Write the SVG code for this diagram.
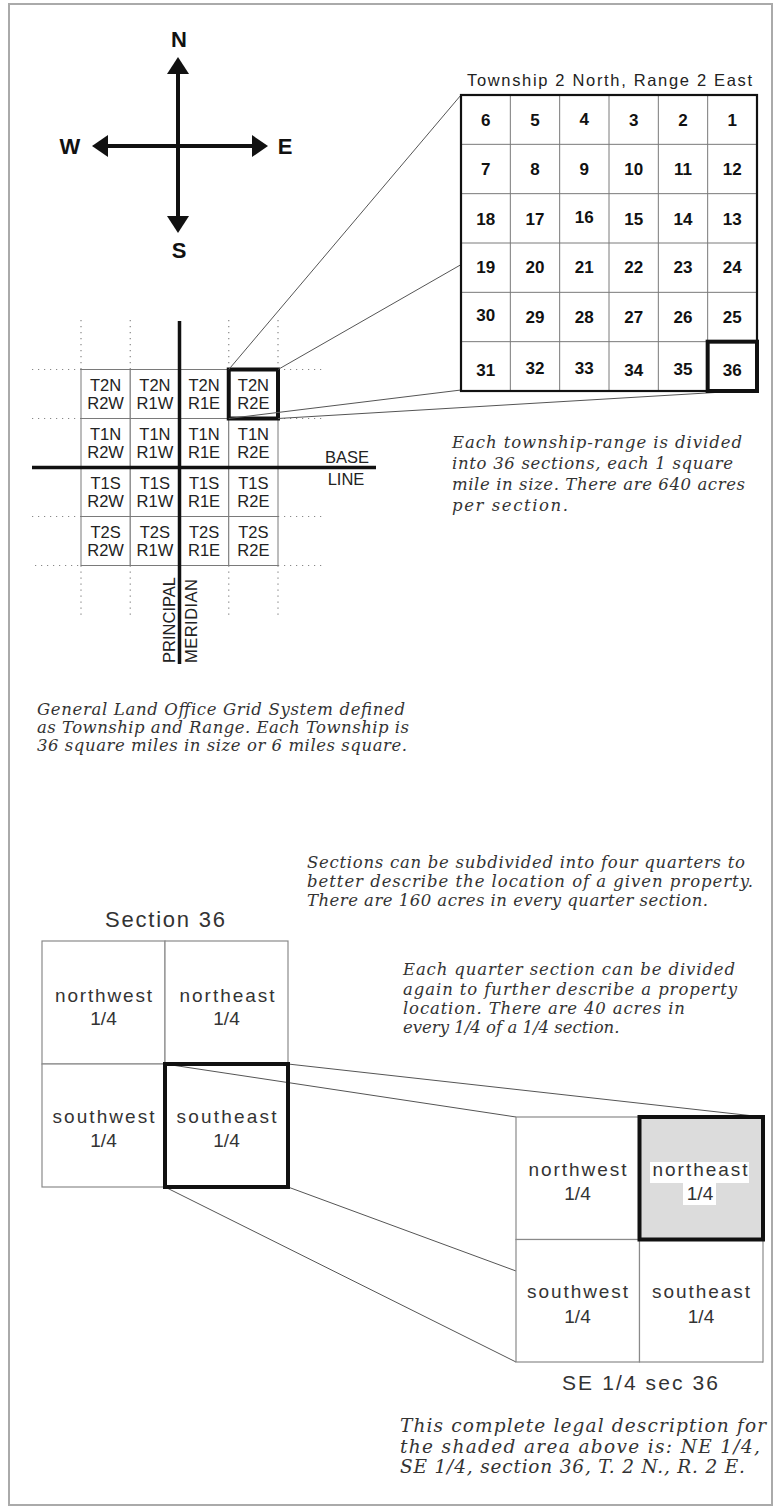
<svg xmlns="http://www.w3.org/2000/svg" width="775" height="1509" viewBox="0 0 775 1509">
<style>
.frame{fill:#fff;stroke:#aaa;stroke-width:2}
.gl{stroke:#7a7a7a;stroke-width:1;fill:#fff}
.gl2{stroke:#8a8a8a;stroke-width:1.2;fill:#fff}
.lbl{font-family:"Liberation Sans",Arial,sans-serif;fill:#222;text-anchor:middle;font-size:16.5px}
.ql{font-family:"Liberation Sans",Arial,sans-serif;fill:#333;text-anchor:middle;font-size:19px}
.it{font-family:"DejaVu Serif","Liberation Serif",serif;font-style:italic;fill:#333;font-size:16.5px}
.num{font-family:"Liberation Sans",Arial,sans-serif;font-weight:bold;font-size:17px;text-anchor:middle;fill:#111}
.cmp{font-family:"Liberation Sans",Arial,sans-serif;font-weight:bold;font-size:22px;text-anchor:middle;fill:#111}
.dot{stroke:#888;stroke-width:1.2;stroke-dasharray:1.2 4.8;fill:none}
.con{stroke:#555;stroke-width:1;fill:none}
.thick{fill:none;stroke:#111;stroke-width:4}
.axis{stroke:#111;stroke-width:3.5}
</style>
<rect class="frame" x="9" y="4" width="763" height="1501"/>

<g id="compass">
  <line x1="178" y1="70" x2="178" y2="220" stroke="#111" stroke-width="4"/>
  <line x1="104" y1="146" x2="256" y2="146" stroke="#111" stroke-width="4"/>
  <polygon points="178,57 167,74 189,74" fill="#111"/>
  <polygon points="178,233 167,216 189,216" fill="#111"/>
  <polygon points="92,146 108,135 108,157" fill="#111"/>
  <polygon points="268,146 252,135 252,157" fill="#111"/>
  <text class="cmp" x="179" y="47">N</text>
  <text class="cmp" x="70" y="154">W</text>
  <text class="cmp" x="285" y="154">E</text>
  <text class="cmp" x="179" y="258">S</text>
</g>

<g id="grid-lines">
  <line class="dot" x1="32" y1="369.5" x2="81" y2="369.5"/>
  <line class="dot" x1="278" y1="369.5" x2="325" y2="369.5"/>
  <line class="dot" x1="32" y1="418.5" x2="81" y2="418.5"/>
  <line class="dot" x1="278" y1="418.5" x2="325" y2="418.5"/>
  <line class="dot" x1="32" y1="516.5" x2="81" y2="516.5"/>
  <line class="dot" x1="278" y1="516.5" x2="325" y2="516.5"/>
  <line class="dot" x1="35" y1="565.5" x2="81" y2="565.5"/>
  <line class="dot" x1="278" y1="565.5" x2="325" y2="565.5"/>
  <line class="dot" x1="81" y1="320" x2="81" y2="369.5"/>
  <line class="dot" x1="130.25" y1="320" x2="130.25" y2="369.5"/>
  <line class="dot" x1="228.75" y1="320" x2="228.75" y2="369.5"/>
  <line class="dot" x1="278" y1="320" x2="278" y2="369.5"/>
  <line class="dot" x1="81" y1="565.5" x2="81" y2="615"/>
  <line class="dot" x1="130.25" y1="565.5" x2="130.25" y2="615"/>
  <line class="dot" x1="228.75" y1="565.5" x2="228.75" y2="615"/>
  <line class="dot" x1="278" y1="565.5" x2="278" y2="615"/>
</g>

<g id="township-grid">
  <g id="t2n-r2w"><rect class="gl" x="81" y="369.5" width="49.25" height="49"/><text class="lbl" x="105.6" y="391">T2N</text><text class="lbl" x="105.6" y="409">R2W</text></g>
  <g id="t2n-r1w"><rect class="gl" x="130.25" y="369.5" width="49.25" height="49"/><text class="lbl" x="154.9" y="391">T2N</text><text class="lbl" x="154.9" y="409">R1W</text></g>
  <g id="t2n-r1e"><rect class="gl" x="179.5" y="369.5" width="49.25" height="49"/><text class="lbl" x="204.1" y="391">T2N</text><text class="lbl" x="204.1" y="409">R1E</text></g>
  <g id="t2n-r2e"><rect class="gl" x="228.75" y="369.5" width="49.25" height="49"/><text class="lbl" x="253.4" y="391">T2N</text><text class="lbl" x="253.4" y="409">R2E</text></g>
  <g id="t1n-r2w"><rect class="gl" x="81" y="418.5" width="49.25" height="49"/><text class="lbl" x="105.6" y="440">T1N</text><text class="lbl" x="105.6" y="458">R2W</text></g>
  <g id="t1n-r1w"><rect class="gl" x="130.25" y="418.5" width="49.25" height="49"/><text class="lbl" x="154.9" y="440">T1N</text><text class="lbl" x="154.9" y="458">R1W</text></g>
  <g id="t1n-r1e"><rect class="gl" x="179.5" y="418.5" width="49.25" height="49"/><text class="lbl" x="204.1" y="440">T1N</text><text class="lbl" x="204.1" y="458">R1E</text></g>
  <g id="t1n-r2e"><rect class="gl" x="228.75" y="418.5" width="49.25" height="49"/><text class="lbl" x="253.4" y="440">T1N</text><text class="lbl" x="253.4" y="458">R2E</text></g>
  <g id="t1s-r2w"><rect class="gl" x="81" y="467.5" width="49.25" height="49"/><text class="lbl" x="105.6" y="489">T1S</text><text class="lbl" x="105.6" y="507">R2W</text></g>
  <g id="t1s-r1w"><rect class="gl" x="130.25" y="467.5" width="49.25" height="49"/><text class="lbl" x="154.9" y="489">T1S</text><text class="lbl" x="154.9" y="507">R1W</text></g>
  <g id="t1s-r1e"><rect class="gl" x="179.5" y="467.5" width="49.25" height="49"/><text class="lbl" x="204.1" y="489">T1S</text><text class="lbl" x="204.1" y="507">R1E</text></g>
  <g id="t1s-r2e"><rect class="gl" x="228.75" y="467.5" width="49.25" height="49"/><text class="lbl" x="253.4" y="489">T1S</text><text class="lbl" x="253.4" y="507">R2E</text></g>
  <g id="t2s-r2w"><rect class="gl" x="81" y="516.5" width="49.25" height="49"/><text class="lbl" x="105.6" y="538">T2S</text><text class="lbl" x="105.6" y="556">R2W</text></g>
  <g id="t2s-r1w"><rect class="gl" x="130.25" y="516.5" width="49.25" height="49"/><text class="lbl" x="154.9" y="538">T2S</text><text class="lbl" x="154.9" y="556">R1W</text></g>
  <g id="t2s-r1e"><rect class="gl" x="179.5" y="516.5" width="49.25" height="49"/><text class="lbl" x="204.1" y="538">T2S</text><text class="lbl" x="204.1" y="556">R1E</text></g>
  <g id="t2s-r2e"><rect class="gl" x="228.75" y="516.5" width="49.25" height="49"/><text class="lbl" x="253.4" y="538">T2S</text><text class="lbl" x="253.4" y="556">R2E</text></g>
  <line id="principal-meridian" class="axis" x1="179.5" y1="321" x2="179.5" y2="664"/>
  <line id="base-line" class="axis" x1="32" y1="467.5" x2="376" y2="467.5"/>
  <rect class="thick" x="228.75" y="369.5" width="49.25" height="49" stroke-width="3.5"/>
  <text class="lbl" x="347" y="463">BASE</text>
  <text class="lbl" x="346" y="485">LINE</text>
  <text class="lbl" style="text-anchor:start" transform="translate(175,663) rotate(-90)" textLength="86">PRINCIPAL</text>
  <text class="lbl" style="text-anchor:start" transform="translate(197,663) rotate(-90)" textLength="84">MERIDIAN</text>
</g>

<g id="connectors">
  <line class="con" x1="228.75" y1="369.5" x2="461" y2="95"/>
  <line class="con" x1="278" y1="369.5" x2="757" y2="95"/>
  <line class="con" x1="228.75" y1="418.5" x2="461" y2="390"/>
  <line class="con" x1="278" y1="418.5" x2="757" y2="390"/>
</g>

<g id="township-2n-2e">
  <text class="lbl" x="467" y="86" style="text-anchor:start" textLength="285">Township 2 North, Range 2 East</text>
  <rect x="461" y="95" width="296" height="296" fill="#fff"/>
  <g stroke="#7a7a7a" stroke-width="1">
    <line x1="510.33" y1="95" x2="510.33" y2="391"/>
    <line x1="559.67" y1="95" x2="559.67" y2="391"/>
    <line x1="609" y1="95" x2="609" y2="391"/>
    <line x1="658.33" y1="95" x2="658.33" y2="391"/>
    <line x1="707.67" y1="95" x2="707.67" y2="391"/>
    <line x1="461" y1="144.33" x2="757" y2="144.33"/>
    <line x1="461" y1="193.67" x2="757" y2="193.67"/>
    <line x1="461" y1="243" x2="757" y2="243"/>
    <line x1="461" y1="292.33" x2="757" y2="292.33"/>
    <line x1="461" y1="341.67" x2="757" y2="341.67"/>
  </g>
  <rect x="461" y="95" width="296" height="296" fill="none" stroke="#111" stroke-width="2.2"/>
  <g id="sec-6"><text class="num" x="485.7" y="126">6</text></g>
  <g id="sec-5"><text class="num" x="535" y="126">5</text></g>
  <g id="sec-4"><text class="num" x="584.3" y="125">4</text></g>
  <g id="sec-3"><text class="num" x="633.7" y="126">3</text></g>
  <g id="sec-2"><text class="num" x="683" y="126">2</text></g>
  <g id="sec-1"><text class="num" x="732.3" y="126">1</text></g>
  <g id="sec-7"><text class="num" x="485.7" y="175">7</text></g>
  <g id="sec-8"><text class="num" x="535" y="175">8</text></g>
  <g id="sec-9"><text class="num" x="584.3" y="175">9</text></g>
  <g id="sec-10"><text class="num" x="633.7" y="175">10</text></g>
  <g id="sec-11"><text class="num" x="683" y="175">11</text></g>
  <g id="sec-12"><text class="num" x="732.3" y="175">12</text></g>
  <g id="sec-18"><text class="num" x="485.7" y="225">18</text></g>
  <g id="sec-17"><text class="num" x="535" y="225">17</text></g>
  <g id="sec-16"><text class="num" x="584.3" y="223">16</text></g>
  <g id="sec-15"><text class="num" x="633.7" y="225">15</text></g>
  <g id="sec-14"><text class="num" x="683" y="225">14</text></g>
  <g id="sec-13"><text class="num" x="732.3" y="225">13</text></g>
  <g id="sec-19"><text class="num" x="485.7" y="273">19</text></g>
  <g id="sec-20"><text class="num" x="535" y="273">20</text></g>
  <g id="sec-21"><text class="num" x="584.3" y="273">21</text></g>
  <g id="sec-22"><text class="num" x="633.7" y="273">22</text></g>
  <g id="sec-23"><text class="num" x="683" y="273">23</text></g>
  <g id="sec-24"><text class="num" x="732.3" y="273">24</text></g>
  <g id="sec-30"><text class="num" x="485.7" y="321">30</text></g>
  <g id="sec-29"><text class="num" x="535" y="323">29</text></g>
  <g id="sec-28"><text class="num" x="584.3" y="323">28</text></g>
  <g id="sec-27"><text class="num" x="633.7" y="323">27</text></g>
  <g id="sec-26"><text class="num" x="683" y="323">26</text></g>
  <g id="sec-25"><text class="num" x="732.3" y="323">25</text></g>
  <g id="sec-31"><text class="num" x="485.7" y="376">31</text></g>
  <g id="sec-32"><text class="num" x="535" y="374">32</text></g>
  <g id="sec-33"><text class="num" x="584.3" y="374">33</text></g>
  <g id="sec-34"><text class="num" x="633.7" y="376">34</text></g>
  <g id="sec-35"><text class="num" x="683" y="375">35</text></g>
  <g id="sec-36"><rect class="thick" x="707.67" y="341.67" width="49.33" height="49.33" stroke-width="3.5"/><text class="num" x="732.3" y="376">36</text></g>
</g>

<g id="note-sections">
  <text class="it" x="452" y="448" textLength="290">Each township-range is divided</text>
  <text class="it" x="452" y="469" textLength="281">into 36 sections, each 1 square</text>
  <text class="it" x="452" y="490" textLength="293">mile in size. There are 640 acres</text>
  <text class="it" x="452" y="511" textLength="116">per section.</text>
</g>

<g id="note-glo">
  <text class="it" x="37" y="715" textLength="368">General Land Office Grid System defined</text>
  <text class="it" x="37" y="733" textLength="372">as Township and Range. Each Township is</text>
  <text class="it" x="37" y="751" textLength="370">36 square miles in size or 6 miles square.</text>
</g>

<g id="note-quarters">
  <text class="it" x="307" y="868" textLength="438">Sections can be subdivided into four quarters to</text>
  <text class="it" x="307" y="887" textLength="446">better describe the location of a given property.</text>
  <text class="it" x="307" y="906" textLength="401">There are 160 acres in every quarter section.</text>
</g>

<g id="note-quarter-quarters">
  <text class="it" x="403" y="975" textLength="332">Each quarter section can be divided</text>
  <text class="it" x="403" y="995" textLength="334">again to further describe a property</text>
  <text class="it" x="403" y="1014" textLength="282">location. There are 40 acres in</text>
  <text class="it" x="403" y="1033">every 1/4 of a 1/4 section.</text>
</g>

<g id="section-36">
  <text class="ql" x="165" y="927" style="font-size:22px" textLength="120">Section 36</text>
  <g id="s36-nw"><rect class="gl2" x="42" y="941" width="123" height="123"/><text class="ql" x="103.5" y="1002" textLength="97">northwest</text><text class="ql" x="103.5" y="1025">1/4</text></g>
  <g id="s36-ne"><rect class="gl2" x="165" y="941" width="123" height="123"/><text class="ql" x="227" y="1002" textLength="95">northeast</text><text class="ql" x="226.5" y="1025">1/4</text></g>
  <g id="s36-sw"><rect class="gl2" x="42" y="1064" width="123" height="123"/><text class="ql" x="103.5" y="1123" textLength="102">southwest</text><text class="ql" x="103.5" y="1147">1/4</text></g>
  <g id="s36-se"><rect class="gl2" x="165" y="1064" width="123" height="123"/><text class="ql" x="226.5" y="1123" textLength="100">southeast</text><text class="ql" x="226.5" y="1147">1/4</text></g>
</g>

<g id="connectors-se">
  <line class="con" x1="165" y1="1064" x2="516" y2="1117"/>
  <line class="con" x1="288" y1="1064" x2="763" y2="1117"/>
  <line class="con" x1="165" y1="1187" x2="516" y2="1362"/>
  <line class="con" x1="288" y1="1187" x2="763" y2="1362"/>
</g>
<rect id="se-highlight" class="thick" x="165" y="1064" width="123" height="123"/>

<g id="se-quarter">
  <g id="se-nw"><rect class="gl2" x="516" y="1117" width="123.5" height="122.5"/><text class="ql" x="577.5" y="1176" textLength="98">northwest</text><text class="ql" x="577.5" y="1200">1/4</text></g>
  <g id="se-sw"><rect class="gl2" x="516" y="1239.5" width="123.5" height="122.5"/><text class="ql" x="577.5" y="1298" textLength="101">southwest</text><text class="ql" x="577.5" y="1323">1/4</text></g>
  <g id="se-se"><rect class="gl2" x="639.5" y="1239.5" width="123.5" height="122.5"/><text class="ql" x="701" y="1298" textLength="98">southeast</text><text class="ql" x="701" y="1323">1/4</text></g>
  <g id="se-ne"><rect x="639.5" y="1117" width="123.5" height="122.5" fill="#dcdcdc" stroke="#111" stroke-width="4"/>
    <rect x="650" y="1162" width="99" height="21" fill="#fff"/><rect x="683" y="1183" width="33" height="22" fill="#fff"/>
    <text class="ql" x="700" y="1176" textLength="95">northeast</text><text class="ql" x="700" y="1200">1/4</text></g>
  <text class="ql" x="640" y="1390" style="font-size:21px" textLength="156">SE 1/4 sec 36</text>
</g>

<g id="note-legal">
  <text class="it" x="400" y="1432" style="font-size:18.5px" textLength="366">This complete legal description for</text>
  <text class="it" x="400" y="1453" style="font-size:18.5px" textLength="360">the shaded area above is: NE 1/4,</text>
  <text class="it" x="400" y="1473" style="font-size:18.5px" textLength="345">SE 1/4, section 36, T. 2 N., R. 2 E.</text>
</g>
</svg>
